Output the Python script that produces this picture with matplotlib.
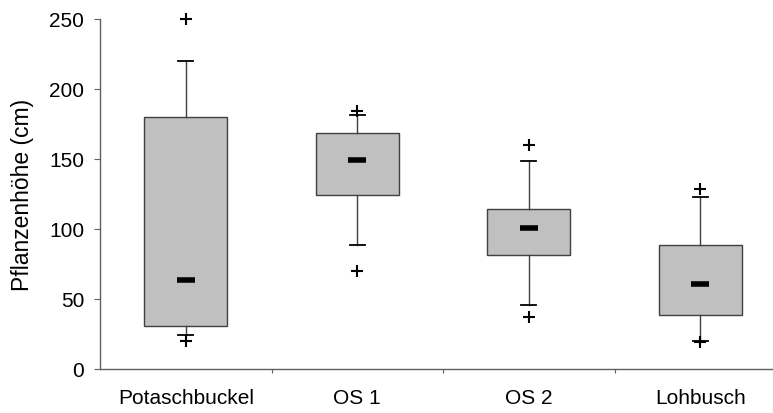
import matplotlib
matplotlib.use("Agg")
import matplotlib.pyplot as plt

plt.rcParams['font.family'] = ['Liberation Sans', 'DejaVu Sans']

# Werte
standorte = ["Potaschbuckel", "OS 1", "OS 2", "Lohbusch"]
q1 = [31, 124.5, 81.5, 38.5]
median = [63.5, 149, 100.5, 60.5]
q3 = [180, 168.5, 114, 88.5]
whisker_lo = [24.5, 88.5, 46, 20]
whisker_hi = [220, 181.5, 148.5, 123]
ausreisser = [[250, 20], [184.5, 70], [160, 37.5], [128.5, 19.5]]

stats = []
for i, name in enumerate(standorte):
    stats.append({
        'label': name, 'med': median[i], 'q1': q1[i], 'q3': q3[i],
        'whislo': whisker_lo[i], 'whishi': whisker_hi[i], 'fliers': ausreisser[i],
    })

fig = plt.figure(figsize=(7.73, 4.14), dpi=100)
# Achse reicht rechts etwas über das Bild hinaus (wie im Original abgeschnitten)
ax = fig.add_axes([100/773, 44/414, 686/773, 350/414])

pos = list(range(len(standorte)))
art = ax.bxp(stats, positions=pos, widths=0.485, patch_artist=True, showfliers=True,
             boxprops=dict(facecolor='#c0c0c0', edgecolor='#404040', linewidth=1.0),
             whiskerprops=dict(color='#404040', linewidth=1.0),
             capprops=dict(color='black', linewidth=1.3),
             capwidths=0.09,
             medianprops=dict(linestyle='none'),
             flierprops=dict(marker='+', markersize=8, markeredgewidth=1.5,
                             markeredgecolor='black'))
for f in art['fliers']:
    f.set_clip_on(False)
ax.plot(pos, median, linestyle='none', marker='_', markersize=13,
        markeredgewidth=4, color='black', zorder=5)

ax.set_xlim(-0.5, 3.5)
ax.set_ylim(0, 250)
ax.set_yticks([0, 50, 100, 150, 200, 250])
ax.set_xticks([0.5, 1.5, 2.5])
ax.set_xticklabels([])
ax.set_xticks(pos, minor=True)
ax.set_xticklabels(standorte, minor=True)
ax.tick_params(axis='x', which='major', length=3, color='#606060')
ax.tick_params(axis='x', which='minor', length=0, labelsize=15, pad=14)
ax.tick_params(axis='y', length=4.3, color='#606060', labelsize=15, pad=7)

for s in ['top', 'right']:
    ax.spines[s].set_visible(False)
for s in ['left', 'bottom']:
    ax.spines[s].set_color('#606060')
    ax.spines[s].set_linewidth(1.0)

ax.set_ylabel("Pflanzenhöhe (cm)", fontsize=16.5, labelpad=11)

fig.savefig("out.png", dpi=100)
